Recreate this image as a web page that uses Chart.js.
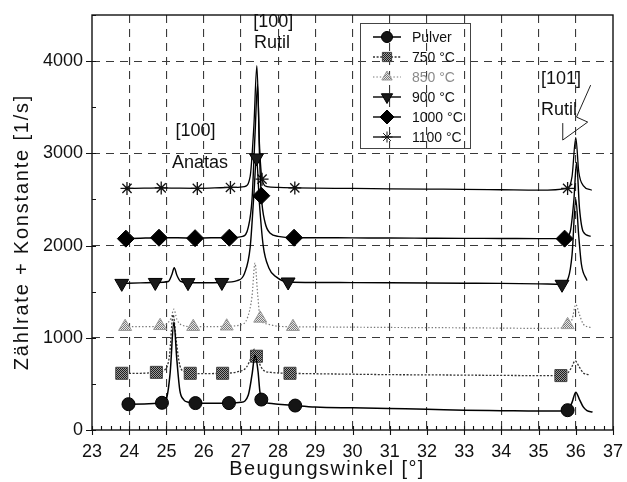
<!DOCTYPE html>
<html>
<head>
<meta charset="utf-8">
<script src="https://cdn.jsdelivr.net/npm/chart.js@4/dist/chart.umd.min.js"></script>
<style>
  html, body { margin: 0; padding: 0; background: #fff; }
  #c { display: block; }
</style>
</head>
<body>
<canvas id="c" width="627" height="482"></canvas>
<script>
// Diffraction scans of TiO2 (powder and annealed layers), offset by a constant per curve.
const xTicks = [23, 24, 25, 26, 27, 28, 29, 30, 31, 32, 33, 34, 35, 36, 37];
const yTicks = [0, 1000, 2000, 3000, 4000];

const seriesNames = ['Pulver', '750 °C', '850 °C', '900 °C', '1000 °C', '1100 °C'];

const pulverX = [23.98, 24.4, 24.88, 25.0, 25.1, 25.2, 25.28, 25.36, 25.46, 25.6, 25.78, 26.2, 26.68, 27.0, 27.2, 27.3, 27.38, 27.46, 27.51, 27.55, 27.75, 28.0, 28.46, 29, 30, 31, 32, 33, 34, 35, 35.5, 35.78, 35.9, 36.0, 36.1, 36.2, 36.3, 36.45];
const pulverY = [280, 282, 295, 340, 620, 1170, 760, 430, 330, 300, 292, 290, 292, 300, 380, 600, 810, 640, 420, 330, 290, 280, 265, 250, 240, 232, 225, 215, 210, 205, 205, 215, 300, 410, 330, 250, 210, 195];
const pulverMarks = [23.98, 24.88, 25.78, 26.68, 27.55, 28.46, 35.78];

const t750X = [23.8, 24.3, 24.73, 24.95, 25.08, 25.18, 25.26, 25.36, 25.5, 25.64, 26.0, 26.51, 26.9, 27.15, 27.28, 27.37, 27.42, 27.5, 27.6, 27.8, 28.32, 29, 30, 31, 32, 33, 34, 35, 35.6, 35.8, 35.9, 35.98, 36.1, 36.2, 36.35];
const t750Y = [615, 615, 625, 650, 800, 1250, 980, 700, 630, 615, 612, 615, 630, 680, 790, 880, 800, 720, 650, 625, 615, 610, 605, 600, 598, 595, 592, 590, 590, 625, 690, 750, 680, 620, 600];
const t750Marks = [23.8, 24.73, 25.64, 26.51, 27.42, 28.32, 35.6];

const t850X = [23.89, 24.4, 24.83, 25.0, 25.12, 25.2, 25.28, 25.4, 25.72, 26.2, 26.62, 27.0, 27.18, 27.3, 27.38, 27.45, 27.52, 27.7, 28.0, 28.4, 29, 30, 31, 32, 33, 34, 35, 35.5, 35.78, 35.9, 36.0, 36.1, 36.2, 36.4];
const t850Y = [1120, 1120, 1130, 1150, 1210, 1310, 1200, 1140, 1120, 1120, 1125, 1140, 1220, 1450, 1810, 1480, 1210, 1150, 1125, 1120, 1118, 1115, 1112, 1110, 1108, 1105, 1102, 1105, 1140, 1200, 1360, 1250, 1150, 1110];
const t850Marks = [23.89, 24.83, 25.72, 26.62, 27.52, 28.4, 35.78];

const t900X = [23.8, 24.3, 24.7, 25.05, 25.15, 25.21, 25.28, 25.38, 25.58, 26.0, 26.49, 26.9, 27.1, 27.25, 27.35, 27.42, 27.5, 27.6, 27.75, 27.95, 28.27, 29, 30, 31, 32, 33, 34, 35, 35.63, 35.8, 35.9, 36.0, 36.08, 36.15, 36.3];
const t900Y = [1590, 1595, 1600, 1610, 1690, 1760, 1680, 1612, 1598, 1596, 1600, 1620, 1700, 1980, 2550, 2950, 2450, 2000, 1760, 1660, 1605, 1600, 1598, 1596, 1594, 1592, 1590, 1585, 1580, 1650, 1900, 2500, 2100, 1800, 1620];
const t900Marks = [23.8, 24.7, 25.58, 26.49, 27.42, 28.27, 35.63];

const t1000X = [23.91, 24.3, 24.8, 25.3, 25.77, 26.2, 26.69, 27.05, 27.2, 27.3, 27.38, 27.45, 27.5, 27.55, 27.65, 27.8, 28.0, 28.43, 29, 30, 31, 32, 33, 34, 35, 35.7, 35.85, 35.95, 36.02, 36.1, 36.2, 36.4];
const t1000Y = [2075, 2080, 2085, 2085, 2080, 2085, 2085, 2100, 2200, 2500, 3200, 3750, 3000, 2540, 2250, 2130, 2100, 2085, 2085, 2083, 2082, 2080, 2078, 2077, 2075, 2075, 2150, 2500, 2900, 2400, 2150, 2100];
const t1000Marks = [23.91, 24.8, 25.77, 26.69, 27.55, 28.43, 35.7];

const t1100X = [23.94, 24.4, 24.86, 25.3, 25.83, 26.3, 26.72, 27.1, 27.25, 27.35, 27.43, 27.5, 27.57, 27.7, 28.0, 28.45, 29, 30, 31, 32, 33, 34, 35, 35.78, 35.9, 36.0, 36.08, 36.2, 36.43];
const t1100Y = [2620, 2622, 2625, 2622, 2620, 2625, 2630, 2640, 2750, 3300, 3950, 3100, 2720, 2640, 2630, 2625, 2622, 2620, 2615, 2612, 2610, 2605, 2600, 2620, 2750, 3170, 2800, 2650, 2600];
const t1100Marks = [23.94, 24.86, 25.83, 26.72, 27.57, 28.45, 35.78];

// Reflex labels, placed in data coordinates
const peakLabels = [
  { text: '[100]', x: 27.87, y: 4420 },
  { text: 'Rutil', x: 27.84, y: 4195 },
  { text: '[100]', x: 25.78, y: 3240 },
  { text: 'Anatas', x: 25.9, y: 2895 },
  { text: '[101]', x: 35.6, y: 3805 },
  { text: 'Rutil', x: 35.55, y: 3470 }
];
// pointer drawn next to the [101] label
const pointerX = [36.40, 36.02, 36.32, 35.65, 35.65];
const pointerY = [3740, 3393, 3339, 3144, 3328];

Chart.defaults.font.family = '"Liberation Sans", Arial, Helvetica, sans-serif';
Chart.defaults.color = '#111';

function halftone(dark, light) {
  const c = document.createElement('canvas');
  c.width = 2; c.height = 2;
  const g = c.getContext('2d');
  g.fillStyle = light; g.fillRect(0, 0, 2, 2);
  g.fillStyle = dark; g.fillRect(0, 0, 1, 1); g.fillRect(1, 1, 1, 1);
  return g.createPattern(c, 'repeat');
}
const fill750 = halftone('#1e1e1e', '#9a9a9a');
const fill850 = halftone('#7a7a7a', '#e6e6e6');

const styles = [
  { style: 'circle', r: 6.5, rot: 0, fill: '#151515', stroke: '#000', line: '#000', dash: [], lw: 1.5, lr: 5.5 },
  { style: 'rect', r: 8.5, rot: 0, fill: fill750, stroke: '#444', line: '#333', dash: [2, 1.6], lw: 1.3, lr: 6.5 },
  { style: 'triangle', r: 7.5, rot: 0, fill: fill850, stroke: '#999', line: '#777', dash: [1.4, 2], lw: 1.2, lr: 6 },
  { style: 'triangle', r: 8, rot: 180, fill: '#1a1a1a', stroke: '#000', line: '#000', dash: [], lw: 1.4, lr: 6.5 },
  { style: 'rectRot', r: 8.5, rot: 0, fill: '#000', stroke: '#000', line: '#000', dash: [], lw: 1.4, lr: 7 },
  { style: 'star', r: 6.5, rot: 0, fill: 'rgba(0,0,0,0)', stroke: '#111', line: '#000', dash: [], lw: 1.3, lr: 5.5 }
];

const xs = [pulverX, t750X, t850X, t900X, t1000X, t1100X];
const ys = [pulverY, t750Y, t850Y, t900Y, t1000Y, t1100Y];
const marks = [pulverMarks, t750Marks, t850Marks, t900Marks, t1000Marks, t1100Marks];

const datasets = seriesNames.map((name, k) => {
  const s = styles[k];
  return {
    label: name,
    data: xs[k].map((x, i) => ({ x: x, y: ys[k][i] })),
    marks: marks[k],
    borderColor: s.line,
    borderWidth: s.lw,
    borderDash: s.dash,
    cubicInterpolationMode: 'monotone',
    fill: false,
    pointStyle: s.style,
    pointRotation: s.rot,
    pointBackgroundColor: s.fill,
    pointBorderColor: s.stroke,
    pointBorderWidth: k === 5 ? 1.3 : 1,
    pointRadius: (c) => {
      if (!c.raw) return 0;
      return c.dataset.marks.some(m => Math.abs(m - c.raw.x) < 1e-9) ? s.r : 0;
    },
    pointHoverRadius: 0
  };
});

const decor = {
  id: 'decor',
  afterDraw(chart) {
    const { ctx, chartArea: a, scales } = chart;
    const sx = scales.x, sy = scales.y;
    ctx.save();
    ctx.setLineDash([]);
    // frame
    ctx.strokeStyle = '#111';
    ctx.lineWidth = 1.4;
    ctx.strokeRect(a.left, a.top, a.right - a.left, a.bottom - a.top);
    // x ticks: majors cross the axis, quarter-degree minors point inward
    ctx.lineWidth = 1.1;
    ctx.beginPath();
    xTicks.forEach(v => {
      const px = Math.round(sx.getPixelForValue(v)) + 0.5;
      ctx.moveTo(px, a.bottom - 4); ctx.lineTo(px, a.bottom + 5);
      if (v < 37) {
        for (let q = 1; q < 4; q++) {
          const mx = Math.round(sx.getPixelForValue(v + q / 4)) + 0.5;
          ctx.moveTo(mx, a.bottom); ctx.lineTo(mx, a.bottom - 4);
        }
      }
    });
    // y ticks
    yTicks.forEach(v => {
      const py = Math.round(sy.getPixelForValue(v)) + 0.5;
      ctx.moveTo(a.left - 6, py); ctx.lineTo(a.left + 4, py);
      const my = Math.round(sy.getPixelForValue(v + 500)) + 0.5;
      ctx.moveTo(a.left, my); ctx.lineTo(a.left + 4, my);
    });
    ctx.stroke();

    // axis titles
    ctx.fillStyle = '#111';
    ctx.font = '20px "Liberation Sans", Arial, sans-serif';
    try { ctx.letterSpacing = '1.4px'; } catch (e) {}
    ctx.textAlign = 'center';
    ctx.textBaseline = 'middle';
    ctx.fillText('Beugungswinkel [°]', 327, 469);
    ctx.save();
    ctx.translate(22, 232);
    ctx.rotate(-Math.PI / 2);
    try { ctx.letterSpacing = '1.8px'; } catch (e) {}
    ctx.fillText('Zählrate + Konstante [1/s]', 0, 0);
    ctx.restore();
    try { ctx.letterSpacing = '0px'; } catch (e) {}

    // reflex labels
    ctx.font = '18px "Liberation Sans", Arial, sans-serif';
    peakLabels.forEach(l => {
      ctx.fillText(l.text, sx.getPixelForValue(l.x), sy.getPixelForValue(l.y));
    });
    // pointer
    ctx.strokeStyle = '#222';
    ctx.lineWidth = 1;
    ctx.beginPath();
    pointerX.forEach((v, i) => {
      const px = sx.getPixelForValue(v), py = sy.getPixelForValue(pointerY[i]);
      if (i === 0) ctx.moveTo(px, py); else ctx.lineTo(px, py);
    });
    ctx.stroke();

    // legend
    const bx = 360.5, by = 23.5, bw = 110, bh = 125;
    ctx.strokeStyle = '#444';
    ctx.lineWidth = 1;
    ctx.strokeRect(bx, by, bw, bh);
    ctx.font = '14px "Liberation Sans", Arial, sans-serif';
    ctx.textAlign = 'left';
    seriesNames.forEach((name, k) => {
      const s = styles[k];
      const y = 37 + 20 * k;
      ctx.save();
      ctx.strokeStyle = s.line;
      ctx.lineWidth = s.lw;
      ctx.setLineDash(s.dash);
      ctx.beginPath();
      ctx.moveTo(373, y); ctx.lineTo(401, y);
      ctx.stroke();
      ctx.restore();
      ctx.save();
      ctx.fillStyle = s.fill;
      ctx.strokeStyle = s.stroke;
      ctx.lineWidth = 1;
      Chart.helpers.drawPoint(ctx, { pointStyle: s.style, rotation: s.rot, radius: s.lr, borderWidth: 1 }, 387, y);
      ctx.restore();
      ctx.fillStyle = k === 2 ? '#8a8a8a' : '#111';
      ctx.fillText(name, 412, y + 1);
    });
    ctx.restore();
  }
};

const gridColor = (c, ends) => ends.includes(c.tick.value) ? 'rgba(0,0,0,0)' : '#3a3a3a';

new Chart(document.getElementById('c'), {
  type: 'line',
  data: { datasets: datasets },
  options: {
    responsive: false,
    animation: false,
    events: [],
    devicePixelRatio: 1,
    layout: { padding: { left: 0, top: 15, right: 14, bottom: 0 } },
    plugins: { legend: { display: false }, tooltip: { enabled: false } },
    scales: {
      x: {
        type: 'linear',
        min: 23, max: 37,
        afterBuildTicks: (axis) => { axis.ticks = xTicks.map(v => ({ value: v })); },
        afterFit: (scale) => { scale.height = 52; scale.paddingLeft = 0; scale.paddingRight = 0; },
        ticks: { font: { size: 18 }, color: '#111', padding: 11, maxRotation: 0, autoSkip: false,
                 callback: (v) => String(v) },
        grid: { color: (c) => gridColor(c, [23, 37]), lineWidth: 1.1, drawTicks: false },
        border: { display: false, dash: [8, 6] }
      },
      y: {
        type: 'linear',
        min: 0, max: 4500,
        afterBuildTicks: (axis) => { axis.ticks = yTicks.map(v => ({ value: v })); },
        afterFit: (scale) => { scale.width = 92; scale.paddingTop = 0; scale.paddingBottom = 0; },
        ticks: { font: { size: 18 }, color: '#111', padding: 9, callback: (v) => String(v) },
        grid: { color: (c) => gridColor(c, [0]), lineWidth: 1.1, drawTicks: false },
        border: { display: false, dash: [8, 6] }
      }
    }
  },
  plugins: [decor]
});
</script>
</body>
</html>
